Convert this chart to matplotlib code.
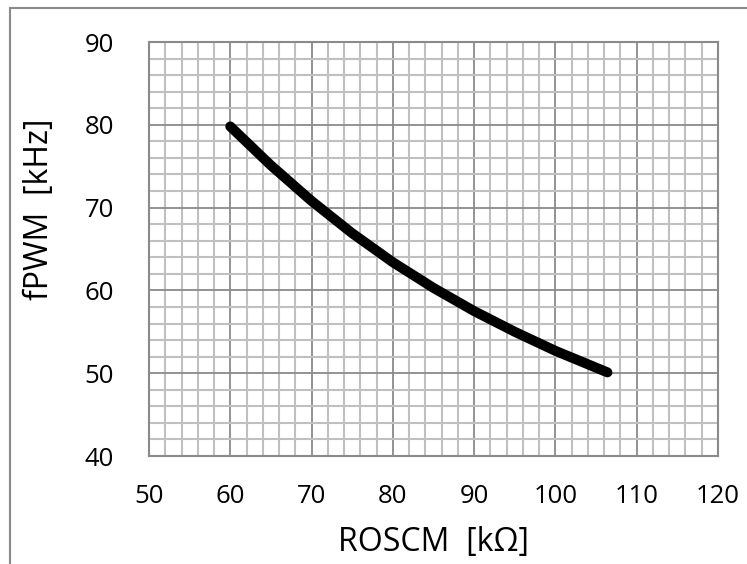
import numpy as np
import matplotlib.pyplot as plt
from matplotlib.patches import Rectangle

plt.rcParams['font.family'] = ['Open Sans', 'DejaVu Sans']

# 曲线数据
roscm = [60, 65, 70, 75, 80, 85, 90, 95, 100, 106.4]
fpwm = [79.8, 75.1, 70.8, 66.9, 63.4, 60.3, 57.5, 55.0, 52.7, 50.1]

x_ticks = [50, 60, 70, 80, 90, 100, 110, 120]
y_ticks = [40, 50, 60, 70, 80, 90]

W, H = 747, 564
fig = plt.figure(figsize=(W / 100, H / 100), dpi=100)
ax = fig.add_axes([149 / W, 1 - 456 / H, (718 - 149) / W, (456 - 42) / H])

ax.plot(roscm, fpwm, color='black', lw=7.2, solid_capstyle='round',
        solid_joinstyle='round', zorder=3)

ax.set_xlim(50, 120)
ax.set_ylim(40, 90)
ax.set_xticks(x_ticks)
ax.set_yticks(y_ticks)
ax.set_xticks(np.arange(50, 121, 2), minor=True)
ax.set_yticks(np.arange(40, 91, 2), minor=True)
ax.grid(which='major', color='#8a8a8a', lw=1.3)
ax.grid(which='minor', color='#c0c0c0', lw=1.5)
ax.set_axisbelow(True)
ax.tick_params(which='both', length=0, labelsize=18.5)
ax.tick_params(axis='y', pad=25)
ax.tick_params(axis='x', pad=20)
for s in ax.spines.values():
    s.set_color('#8a8a8a')
    s.set_linewidth(1.5)

fig.text(40 / W, 1 - 209 / H, 'fPWM  [kHz]', rotation=90, ha='center', va='center', fontsize=23)
fig.text(433 / W, 1 - 543 / H, 'ROSCM  [k\u03a9]', ha='center', va='center', fontsize=23)

# 外框
fig.patches.append(Rectangle((10 / W, -0.1), 1.2, 1.1 - 8 / H, transform=fig.transFigure,
                             fill=False, edgecolor='#8a8a8a', lw=1.5))

fig.savefig('out.png', dpi=100)
